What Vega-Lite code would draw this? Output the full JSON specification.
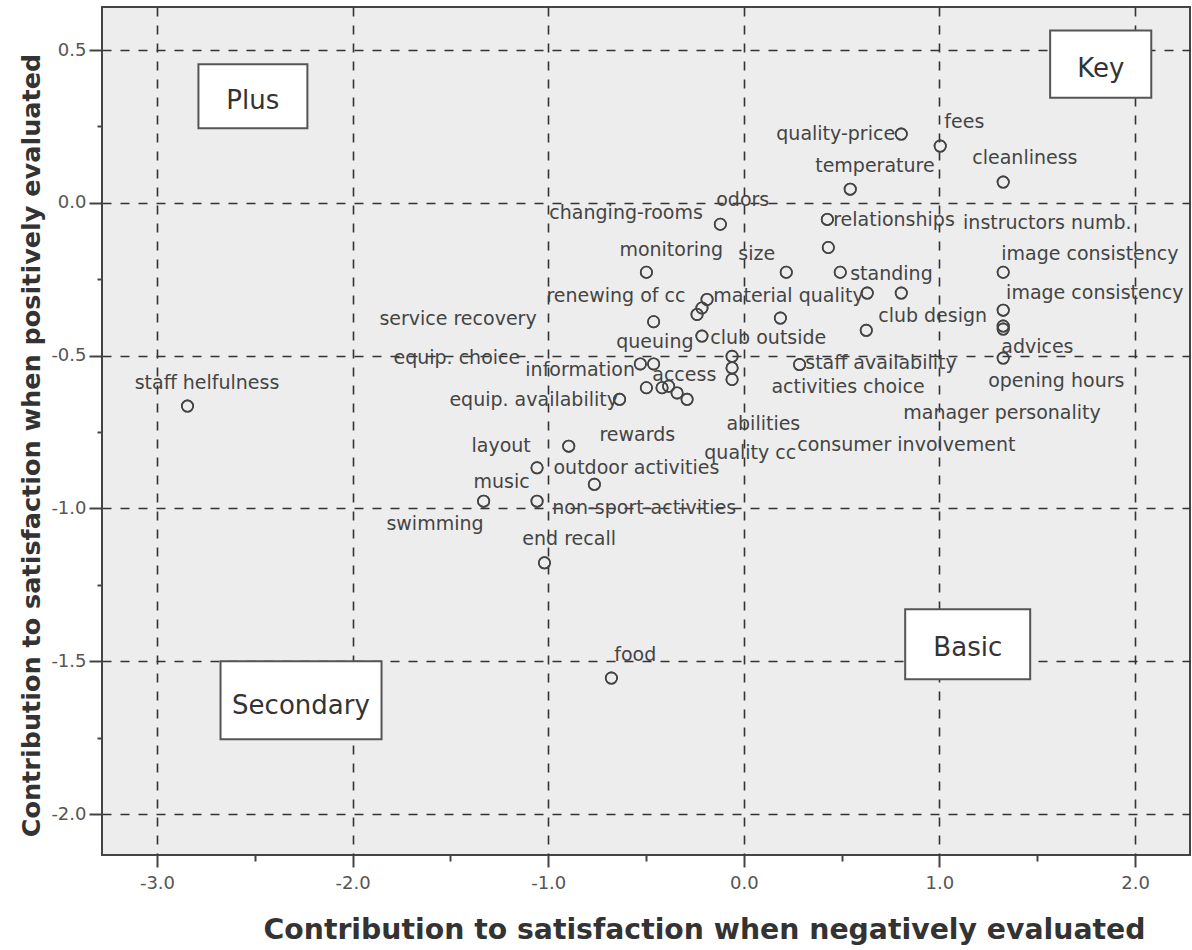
{
  "$schema": "https://vega.github.io/schema/vega-lite/v6.json",
  "width": 1088,
  "height": 848,
  "autosize": {"type": "none"},
  "padding": {"left": 102, "top": 7, "right": 2, "bottom": 95},
  "background": "white",
  "config": {
    "view": {"fill": "#EDEDED", "stroke": "#444444", "strokeWidth": 2},
    "axis": {"domain": false}
  },
  "datasets": {
    "points": [
      {"x": 0.805, "y": 0.225}, {"x": 1.004, "y": 0.186}, {"x": 0.544, "y": 0.045},
      {"x": 1.326, "y": 0.068}, {"x": -0.12, "y": -0.07}, {"x": 0.427, "y": -0.054},
      {"x": 0.432, "y": -0.146}, {"x": 0.217, "y": -0.227}, {"x": 0.493, "y": -0.227},
      {"x": 1.326, "y": -0.227}, {"x": -0.498, "y": -0.227}, {"x": 0.631, "y": -0.295},
      {"x": 0.805, "y": -0.295}, {"x": 1.326, "y": -0.351}, {"x": 1.326, "y": -0.403},
      {"x": 1.326, "y": -0.413}, {"x": 0.626, "y": -0.417}, {"x": 0.187, "y": -0.377},
      {"x": 1.326, "y": -0.508}, {"x": -0.188, "y": -0.316}, {"x": -0.214, "y": -0.344},
      {"x": -0.239, "y": -0.365}, {"x": -0.461, "y": -0.389}, {"x": -0.214, "y": -0.436},
      {"x": -0.06, "y": -0.502}, {"x": -0.529, "y": -0.527}, {"x": -0.461, "y": -0.527},
      {"x": -0.06, "y": -0.54}, {"x": 0.285, "y": -0.529}, {"x": -0.06, "y": -0.578},
      {"x": -0.498, "y": -0.605}, {"x": -0.418, "y": -0.605}, {"x": -0.384, "y": -0.6},
      {"x": -0.341, "y": -0.622}, {"x": -0.29, "y": -0.643}, {"x": -0.635, "y": -0.643},
      {"x": -0.895, "y": -0.796}, {"x": -1.057, "y": -0.867}, {"x": -0.764, "y": -0.921},
      {"x": -1.33, "y": -0.976}, {"x": -1.057, "y": -0.976}, {"x": -1.019, "y": -1.178},
      {"x": -0.677, "y": -1.555}, {"x": -2.844, "y": -0.665}
    ],
    "labels": [
      {"label": "quality-price", "x": 0.166, "y": 0.225},
      {"label": "fees", "x": 1.025, "y": 0.264},
      {"label": "temperature", "x": 0.365, "y": 0.12},
      {"label": "cleanliness", "x": 1.168, "y": 0.146},
      {"label": "odors", "x": -0.141, "y": 0.009},
      {"label": "changing-rooms", "x": -0.994, "y": -0.033},
      {"label": "relationships", "x": 0.457, "y": -0.057},
      {"label": "instructors numb.", "x": 1.121, "y": -0.066},
      {"label": "image consistency", "x": 1.316, "y": -0.168},
      {"label": "monitoring", "x": -0.636, "y": -0.155},
      {"label": "size", "x": -0.028, "y": -0.168},
      {"label": "standing", "x": 0.544, "y": -0.233},
      {"label": "image consistency", "x": 1.341, "y": -0.295},
      {"label": "renewing of cc", "x": -1.009, "y": -0.305},
      {"label": "material quality", "x": -0.156, "y": -0.305},
      {"label": "service recovery", "x": -1.863, "y": -0.38},
      {"label": "club design", "x": 0.687, "y": -0.37},
      {"label": "club outside", "x": -0.171, "y": -0.443},
      {"label": "queuing", "x": -0.652, "y": -0.456},
      {"label": "equip. choice", "x": -1.791, "y": -0.508},
      {"label": "advices", "x": 1.316, "y": -0.472},
      {"label": "information", "x": -1.117, "y": -0.547},
      {"label": "access", "x": -0.468, "y": -0.564},
      {"label": "staff availability", "x": 0.314, "y": -0.525},
      {"label": "activities choice", "x": 0.141, "y": -0.603},
      {"label": "opening hours", "x": 1.249, "y": -0.583},
      {"label": "equip. availability", "x": -1.505, "y": -0.646},
      {"label": "manager personality", "x": 0.815, "y": -0.688},
      {"label": "abilities", "x": -0.089, "y": -0.724},
      {"label": "rewards", "x": -0.738, "y": -0.76},
      {"label": "quality cc", "x": -0.202, "y": -0.819},
      {"label": "consumer involvement", "x": 0.273, "y": -0.793},
      {"label": "layout", "x": -1.392, "y": -0.796},
      {"label": "outdoor activities", "x": -0.973, "y": -0.868},
      {"label": "music", "x": -1.382, "y": -0.914},
      {"label": "non-sport-activities", "x": -0.979, "y": -0.999},
      {"label": "swimming", "x": -1.827, "y": -1.051},
      {"label": "end recall", "x": -1.132, "y": -1.1},
      {"label": "food", "x": -0.662, "y": -1.48},
      {"label": "staff helfulness", "x": -3.114, "y": -0.59}
    ],
    "boxes": [
      {"name": "Plus", "x1": -2.788, "x2": -2.231, "y1": 0.454, "y2": 0.244, "cx": -2.51, "cy": 0.333},
      {"name": "Key", "x1": 1.566, "x2": 2.083, "y1": 0.564, "y2": 0.344, "cx": 1.825, "cy": 0.438},
      {"name": "Basic", "x1": 0.825, "x2": 1.464, "y1": -1.33, "y2": -1.559, "cx": 1.145, "cy": -1.457},
      {"name": "Secondary", "x1": -2.675, "x2": -1.852, "y1": -1.5, "y2": -1.755, "cx": -2.264, "cy": -1.647}
    ]
  },
  "layer": [
    {
      "data": {"name": "points"},
      "mark": {"type": "point", "shape": "circle", "filled": false, "size": 130, "stroke": "#444444", "strokeWidth": 1.6, "opacity": 1},
      "encoding": {
        "x": {
          "field": "x", "type": "quantitative",
          "scale": {"domain": [-3.281, 2.281], "nice": false, "zero": false},
          "axis": {
            "values": [-3, -2.5, -2, -1.5, -1, -0.5, 0, 0.5, 1, 1.5, 2],
            "format": ".1f",
            "labelExpr": "datum.value % 1 === 0 ? replace(datum.label, '\u2212', '-') : ''",
            "grid": true,
            "gridColor": "#333333",
            "gridWidth": 1.6,
            "gridDash": [9, 9],
            "gridOpacity": {"condition": {"test": "datum.value % 1 === 0", "value": 1}, "value": 0},
            "ticks": true,
            "tickColor": "#444444",
            "tickWidth": 2,
            "tickSize": {"condition": {"test": "datum.value % 1 === 0", "value": 12}, "value": 6},
            "labelFont": "DejaVu Sans",
            "labelFontSize": 18,
            "labelColor": "#555555",
            "labelPadding": 7,
            "title": "Contribution to satisfaction when negatively evaluated",
            "titleFont": "DejaVu Sans",
            "titleFontWeight": "bold",
            "titleFontSize": 28.3,
            "titleColor": "#333333",
            "titleX": 602,
            "titleY": 83,
            "titleAlign": "center",
            "titleBaseline": "alphabetic"
          }
        },
        "y": {
          "field": "y", "type": "quantitative",
          "scale": {"domain": [-2.134, 0.641], "nice": false, "zero": false},
          "axis": {
            "values": [-2, -1.75, -1.5, -1.25, -1, -0.75, -0.5, -0.25, 0, 0.25, 0.5],
            "format": ".1f",
            "labelExpr": "(datum.value * 2) % 1 === 0 ? replace(datum.label, '\u2212', '-') : ''",
            "grid": true,
            "gridColor": "#333333",
            "gridWidth": 1.6,
            "gridDash": [9, 9],
            "gridOpacity": {"condition": {"test": "(datum.value * 2) % 1 === 0", "value": 1}, "value": 0},
            "ticks": true,
            "tickColor": "#444444",
            "tickWidth": 2,
            "tickSize": {"condition": {"test": "(datum.value * 2) % 1 === 0", "value": 13}, "value": 5},
            "labelFont": "DejaVu Sans",
            "labelFontSize": 18,
            "labelColor": "#555555",
            "labelPadding": 3,
            "title": "Contribution to satisfaction when positively evaluated",
            "titleFont": "DejaVu Sans",
            "titleFontWeight": "bold",
            "titleFontSize": 25.5,
            "titleColor": "#333333",
            "titleX": -63,
            "titleY": 438,
            "titleAngle": 270,
            "titleAlign": "center",
            "titleBaseline": "alphabetic"
          }
        }
      }
    },
    {
      "mark": {"type": "rule", "stroke": "#333333", "strokeWidth": 2},
      "encoding": {"x": {"datum": 0, "type": "quantitative"}}
    },
    {
      "mark": {"type": "rule", "stroke": "#333333", "strokeWidth": 2},
      "encoding": {"y": {"datum": 0, "type": "quantitative"}}
    },
    {
      "data": {"name": "boxes"},
      "mark": {"type": "rect", "fill": "white", "stroke": "#555555", "strokeWidth": 2},
      "encoding": {
        "x": {"field": "x1", "type": "quantitative"},
        "x2": {"field": "x2"},
        "y": {"field": "y1", "type": "quantitative"},
        "y2": {"field": "y2"}
      }
    },
    {
      "data": {"name": "boxes"},
      "mark": {"type": "text", "align": "center", "baseline": "middle", "font": "DejaVu Sans", "fontSize": 26, "color": "#333333"},
      "encoding": {
        "x": {"field": "cx", "type": "quantitative"},
        "y": {"field": "cy", "type": "quantitative"},
        "text": {"field": "name"}
      }
    },
    {
      "data": {"name": "points"},
      "mark": {"type": "point", "shape": "circle", "filled": false, "size": 130, "stroke": "#444444", "strokeWidth": 1.6, "opacity": 1},
      "encoding": {
        "x": {"field": "x", "type": "quantitative"},
        "y": {"field": "y", "type": "quantitative"}
      }
    },
    {
      "data": {"name": "labels"},
      "mark": {"type": "text", "align": "left", "baseline": "middle", "font": "DejaVu Sans", "fontSize": 19, "color": "#444444"},
      "encoding": {
        "x": {"field": "x", "type": "quantitative"},
        "y": {"field": "y", "type": "quantitative"},
        "text": {"field": "label"}
      }
    }
  ]
}
